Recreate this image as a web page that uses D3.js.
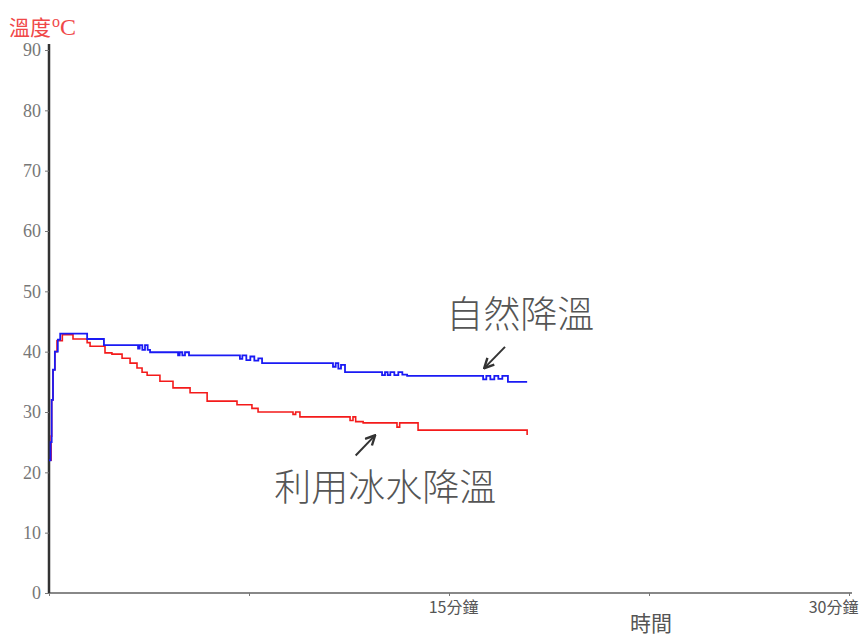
<!DOCTYPE html>
<html>
<head>
<meta charset="utf-8">
<title>溫度 時間</title>
<script src="https://d3js.org/d3.v7.min.js"></script>
<style>
  body { margin: 0; background: #fff; }
  svg { display: block; }
</style>
</head>
<body>
<svg id="chart" width="866" height="639"></svg>
<script>
    // 自然降溫 (blue) - minutes / degrees
    var naturalTime = [0, 0.06, 0.1, 0.15, 0.22, 0.33, 0.42, 1.43, 2.06,
        3.34, 3.4, 3.5, 3.6, 3.7, 3.79,
        4.84, 4.9, 5.0, 5.1, 5.25,
        7.16, 7.25, 7.4, 7.55, 7.7, 7.85, 7.99,
        10.65, 10.75, 10.85, 10.95, 11.1,
        12.49, 12.6, 12.7, 12.8, 12.95, 13.1, 13.25, 13.43,
        16.28, 16.4, 16.55, 16.7, 16.85, 17.0, 17.21, 17.93];
    var naturalTemp = [22, 25, 32, 37, 40, 42, 43, 42.1, 41.1,
        40.5, 41.1, 40.3, 41.1, 40.3, 39.9,
        39.4, 39.9, 39.4, 39.9, 39.4,
        38.8, 39.4, 38.6, 39.2, 38.5, 38.9, 38.1,
        37.5, 38.1, 37.2, 37.8, 36.6,
        36.1, 36.6, 36.1, 36.6, 36.1, 36.6, 36.2, 36.0,
        35.4, 36.0, 35.4, 36.0, 35.5, 36.0, 35.0, 35.0];

    // 利用冰水降溫 (red)
    var iceTime = [0.05, 0.08, 0.1, 0.15, 0.22, 0.3, 0.5, 0.9, 1.43, 1.54,
        2.1, 2.36, 2.74, 3.04, 3.3, 3.49, 3.68, 4.16, 4.65, 5.29, 5.93,
        7.05, 7.61, 7.84, 9.15, 9.25, 9.41, 11.29, 11.4, 11.5, 11.78,
        13.05, 13.15, 13.84, 17.85, 17.93];
    var iceTemp = [22, 26, 32, 37, 40, 41.8, 42.8, 42.1, 41.5, 40.9,
        39.8, 39.6, 38.9, 38.1, 37.3, 36.6, 36.1, 35.1, 34.0, 33.2, 31.8,
        31.2, 30.6, 30.0, 29.6, 30.0, 29.2, 28.6, 29.2, 28.4, 28.2,
        27.5, 28.2, 27.0, 27.0, 26.2];

    var yTicks = [0, 10, 20, 30, 40, 50, 60, 70, 80, 90];
    var xTicks = [0, 7.5, 15, 22.5, 30];
    var xLabels = {15: "15分鐘", 30: "30分鐘"};

    // annotations in data units: [minute, degree]
    var naturalLabel = {text: "自然降溫", at: [14.9, 43.9]};
    var iceLabel = {text: "利用冰水降溫", at: [8.45, 15.3]};
    var naturalArrow = [[17.1, 40.8], [16.35, 37.4]];
    var iceArrow = [[11.5, 22.8], [12.2, 26.0]];

    var svg = d3.select("#chart");

    var x = d3.scaleLinear().domain([0, 30]).range([49, 849]);
    var y = d3.scaleLinear().domain([0, 90]).range([593, 50]);

    var natural = naturalTime.map((t, i) => ({t: t, v: naturalTemp[i]}));
    var ice = iceTime.map((t, i) => ({t: t, v: iceTemp[i]}));

    var line = d3.line()
        .x(d => x(d.t))
        .y(d => y(d.v))
        .curve(d3.curveStepAfter);

    // x axis
    var xAxis = svg.append("g")
        .attr("transform", `translate(0,${y(0)})`)
        .call(d3.axisBottom(x)
            .tickValues(xTicks)
            .tickSize(3)
            .tickFormat(d => xLabels[d] || ""));
    xAxis.select(".domain")
        .attr("stroke", "#888")
        .attr("stroke-width", 2)
        .attr("d", `M${x(0)},0H${x(30) + 3}`);
    xAxis.selectAll(".tick line").attr("stroke", "#777");
    xAxis.selectAll(".tick text")
        .attr("fill", "#555")
        .attr("font-family", "'Noto Sans CJK TC', serif")
        .attr("font-size", 16)
        .attr("dy", "0.9em")
        .attr("dx", d => d === 30 ? -16 : 4);

    // y axis
    var yAxis = svg.append("g")
        .attr("transform", `translate(${x(0)},0)`)
        .call(d3.axisLeft(y)
            .tickValues(yTicks)
            .tickSize(4)
            .tickPadding(4));
    yAxis.select(".domain")
        .attr("stroke", "#333")
        .attr("stroke-width", 2.5)
        .attr("d", `M0,${y(0)}V${y(90) - 6}`);
    yAxis.selectAll(".tick line").attr("stroke", "#777");
    yAxis.selectAll(".tick text")
        .attr("fill", "#777")
        .attr("font-family", "'Liberation Serif', serif")
        .attr("font-size", 18);

    // series
    svg.append("path")
        .datum(ice)
        .attr("fill", "none")
        .attr("stroke", "#f41a1a")
        .attr("stroke-width", 1.6)
        .attr("d", line);

    svg.append("path")
        .datum(natural)
        .attr("fill", "none")
        .attr("stroke", "#1a1af4")
        .attr("stroke-width", 1.8)
        .attr("d", line);

    // axis titles
    var yTitle = svg.append("text")
        .attr("x", 9)
        .attr("y", 35)
        .attr("fill", "#f04848")
        .attr("font-family", "'Noto Sans CJK TC', serif")
        .attr("font-size", 21);
    yTitle.append("tspan").text("溫度");
    yTitle.append("tspan").attr("font-family", "'Liberation Serif', serif")
        .attr("font-size", 16).attr("dy", -8).attr("dx", 1).text("o");
    yTitle.append("tspan").attr("font-family", "'Liberation Serif', serif")
        .attr("font-size", 24).attr("dy", 8).text("C");

    svg.append("text")
        .attr("x", x(22.5) + 2)
        .attr("y", 631)
        .attr("text-anchor", "middle")
        .attr("fill", "#555")
        .attr("font-family", "'Noto Sans CJK TC', serif")
        .attr("font-size", 21)
        .text("時間");

    // annotations
    [naturalLabel, iceLabel].forEach(a => {
        svg.append("text")
            .attr("x", x(a.at[0]))
            .attr("y", y(a.at[1]))
            .attr("fill", "#555")
            .attr("font-family", "'Noto Sans CJK TC', sans-serif")
            .attr("font-weight", 300)
            .attr("font-size", 37)
            .text(a.text);
    });

    svg.append("defs").append("marker")
        .attr("id", "head")
        .attr("viewBox", "0 0 10 10")
        .attr("refX", 8).attr("refY", 5)
        .attr("markerWidth", 6).attr("markerHeight", 6)
        .attr("orient", "auto")
        .append("path")
        .attr("d", "M1,1L9,5L1,9")
        .attr("fill", "none")
        .attr("stroke", "#333")
        .attr("stroke-width", 2);

    [naturalArrow, iceArrow].forEach(a => {
        svg.append("line")
            .attr("x1", x(a[0][0])).attr("y1", y(a[0][1]))
            .attr("x2", x(a[1][0])).attr("y2", y(a[1][1]))
            .attr("stroke", "#333")
            .attr("stroke-width", 2)
            .attr("marker-end", "url(#head)");
    });
</script>
</body>
</html>
